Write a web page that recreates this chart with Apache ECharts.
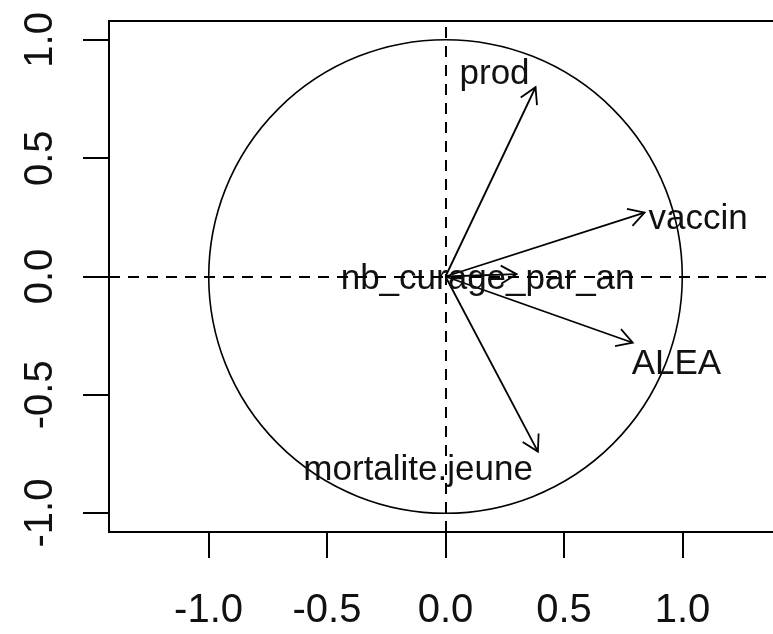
<!DOCTYPE html>
<html>
<head>
<meta charset="utf-8">
<script src="https://cdn.jsdelivr.net/npm/echarts@6/dist/echarts.min.js"></script>
<style>
  html, body { margin: 0; padding: 0; background: #fff; }
  #chart { width: 773px; height: 634px; }
</style>
</head>
<body>
<div id="chart"></div>
<script>
// Variables factor map: coordinates of each variable on the first two dimensions
const variables = ['prod', 'vaccin', 'nb_curage_par_an', 'ALEA', 'mortalite.jeune'];
const dim1 = [0.38, 0.84, 0.30, 0.79, 0.39];
const dim2 = [0.80, 0.27, 0.01, -0.28, -0.74];
const xTicks = [-1.0, -0.5, 0.0, 0.5, 1.0];
const yTicks = [-1.0, -0.5, 0.0, 0.5, 1.0];

// label placement relative to each arrow tip (pixels)
const labelPlacement = {
  'prod':             { dx: -41, dy: -13, align: 'center' },
  'vaccin':           { dx: 4,   dy: 7,   align: 'left' },
  'nb_curage_par_an': { dx: -29, dy: 5,   align: 'center' },
  'ALEA':             { dx: -1,  dy: 22,  align: 'left' },
  'mortalite.jeune':  { dx: -5,  dy: 19,  align: 'right' }
};

const FONT = '"Liberation Sans", Arial, sans-serif';
const HEAD_LEN = 18;
const HEAD_ANGLE = Math.PI / 6;

const arrowData = variables.map((v, i) => [dim1[i], dim2[i]]);

const chart = echarts.init(document.getElementById('chart'), null, { renderer: 'canvas' });

const fmt = v => v.toFixed(1);

chart.setOption({
  animation: false,
  backgroundColor: '#fff',
  grid: {
    left: 109, top: 21, width: 673, height: 511,
    show: true, borderColor: '#000', borderWidth: 2, backgroundColor: 'transparent',
    outerBoundsMode: 'none'
  },
  xAxis: {
    type: 'value', min: -1.42, max: 1.42,
    axisLine: { show: false, onZero: false },
    splitLine: { show: false },
    axisTick: { show: true, length: 26, inside: false, customValues: xTicks,
                lineStyle: { color: '#000', width: 2 } },
    axisLabel: { show: true, customValues: xTicks, formatter: fmt, margin: 59,
                 color: '#111', fontSize: 40, fontFamily: FONT }
  },
  yAxis: {
    type: 'value', min: -1.08, max: 1.08,
    axisLine: { show: false, onZero: false },
    splitLine: { show: false },
    axisTick: { show: true, length: 26, inside: false, customValues: yTicks,
                lineStyle: { color: '#000', width: 2 } },
    axisLabel: { show: true, customValues: yTicks, formatter: fmt, rotate: 90, margin: 48,
                 color: '#111', fontSize: 40, fontFamily: FONT }
  },
  series: [
    {
      // unit correlation circle + dashed axes through the origin
      type: 'custom',
      data: [[0, 0]],
      silent: true,
      z: 1,
      renderItem(params, api) {
        const c = api.coord([0, 0]);
        const s = api.size([1, 1]);
        return {
          type: 'circle',
          shape: { cx: c[0], cy: c[1], r: (s[0] + s[1]) / 2 },
          style: { fill: null, stroke: '#000', lineWidth: 1.6 }
        };
      },
      markLine: {
        silent: true,
        symbol: 'none',
        label: { show: false },
        lineStyle: { color: '#000', type: [11, 8], width: 2 },
        data: [{ xAxis: 0 }, { yAxis: 0 }]
      }
    },
    {
      // arrows from the origin to each variable
      type: 'custom',
      data: arrowData,
      silent: true,
      z: 2,
      renderItem(params, api) {
        const o = api.coord([0, 0]);
        const t = api.coord([api.value(0), api.value(1)]);
        const a = Math.atan2(t[1] - o[1], t[0] - o[0]);
        const h1 = [t[0] - HEAD_LEN * Math.cos(a - HEAD_ANGLE), t[1] - HEAD_LEN * Math.sin(a - HEAD_ANGLE)];
        const h2 = [t[0] - HEAD_LEN * Math.cos(a + HEAD_ANGLE), t[1] - HEAD_LEN * Math.sin(a + HEAD_ANGLE)];
        return {
          type: 'group',
          children: [
            { type: 'line', shape: { x1: o[0], y1: o[1], x2: t[0], y2: t[1] },
              style: { stroke: '#000', lineWidth: 1.8 } },
            { type: 'polyline', shape: { points: [h1, t, h2] },
              style: { stroke: '#000', lineWidth: 1.8, fill: null } }
          ]
        };
      }
    },
    {
      // variable names
      type: 'custom',
      data: arrowData,
      silent: true,
      z: 3,
      renderItem(params, api) {
        const t = api.coord([api.value(0), api.value(1)]);
        const name = variables[params.dataIndex];
        const p = labelPlacement[name];
        return {
          type: 'text',
          x: t[0] + p.dx, y: t[1] + p.dy,
          style: { text: name, fill: '#111', fontSize: 35, fontFamily: FONT,
                   align: p.align, verticalAlign: 'middle' }
        };
      }
    }
  ]
});
</script>
</body>
</html>
